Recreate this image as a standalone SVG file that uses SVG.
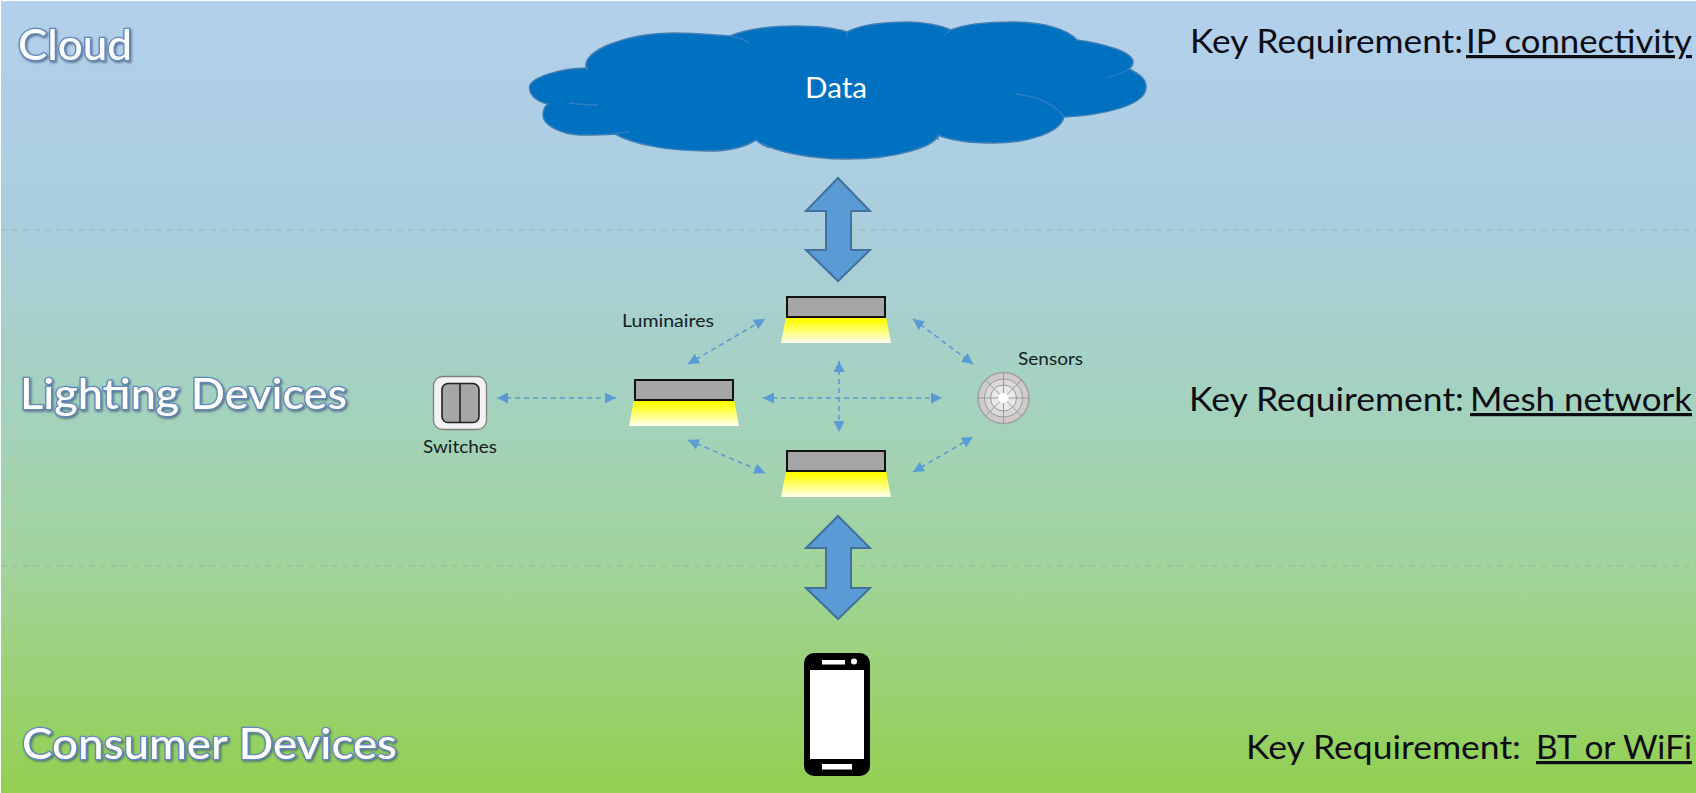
<svg xmlns="http://www.w3.org/2000/svg" width="1696" height="793" viewBox="0 0 1696 793">
<style>
text{font-family:Lato,"Liberation Sans",sans-serif}
.title{font-size:42px;font-weight:500;fill:#fff;stroke:#6488bd;stroke-width:2.6px;paint-order:stroke;filter:url(#shadow)}
.req{font-size:32px;fill:#0c0c14}
.u{text-decoration:underline}
.small{font-size:16.5px;fill:#14201f}
.sep{stroke:#8fa9a8;stroke-width:1;stroke-dasharray:6 5;fill:none;opacity:.6}
.big{fill:#5b9bd5;stroke:#41719c;stroke-width:2}
.link{stroke:#5b9bd5;stroke-width:1.6;stroke-dasharray:5 4;fill:none;marker-start:url(#ah);marker-end:url(#ah)}
.box{fill:#a6a6a6;stroke:#111;stroke-width:2}
.beam{fill:url(#lg)}
.fold{fill:none;stroke:#2f7ec0;stroke-width:1.3}
.ring{fill:none;stroke:#9a9a9a;stroke-width:1}
</style>
<defs>
<linearGradient id="bg" x1="0" y1="0" x2="0" y2="1">
<stop offset="0" stop-color="#b3d0ec"/>
<stop offset=".27" stop-color="#aacede"/>
<stop offset=".5" stop-color="#a4d2c0"/>
<stop offset=".72" stop-color="#a0d49a"/>
<stop offset="1" stop-color="#92d050"/>
</linearGradient>
<linearGradient id="lg" x1="0" y1="0" x2="0" y2="1">
<stop offset=".12" stop-color="#ffff00"/>
<stop offset="1" stop-color="#fffff0"/>
</linearGradient>
<filter id="shadow" x="-5%" y="-20%" width="110%" height="140%">
<feDropShadow dx="1.2" dy="1.5" stdDeviation="1.2" flood-color="#3b4f70" flood-opacity=".75"/>
</filter>
<marker id="ah" viewBox="0 0 10 10" refX="10" refY="5" markerUnits="userSpaceOnUse" markerWidth="11" markerHeight="11" orient="auto-start-reverse">
<path d="M0 0L10 5L0 10Z" fill="#5b9bd5"/>
</marker>
<g id="lum">
<path class="beam" d="M-1 20H99L104 46H-6Z"/>
<rect class="box" x="0" y="0" width="98" height="20"/>
</g>
</defs>
<rect id="background" x="1" y="1" width="1695" height="792" fill="url(#bg)"/>
<path class="sep" d="M1 230H1696M1 566H1696"/>

<g id="connectors">
<path class="big" d="M838 178L870 211H851V250H870L838 281L806 250H826V211H806Z"/>
<path class="big" d="M838 516L870 548H851V588H870L838 619L806 588H826V548H806Z"/>
<line class="link" x1="497" y1="398" x2="616" y2="398"/>
<line class="link" x1="688" y1="364" x2="765" y2="319"/>
<line class="link" x1="688" y1="440" x2="765" y2="473"/>
<line class="link" x1="913" y1="319" x2="973" y2="364"/>
<line class="link" x1="913" y1="472" x2="973" y2="437"/>
<line class="link" x1="763" y1="398" x2="942" y2="398"/>
<line class="link" x1="839" y1="361" x2="839" y2="432"/>
</g>

<g id="cloud">
<path fill="#0070c0" stroke="#3f7fb5" stroke-width="1.5" d="M587 70C578 50 630 33 673 33C695 33 715 35 730 36C750 28 775 26 795 26C820 26 838 29 847 32C860 25 885 22 908 22C925 22 942 26 951 30C965 24 990 22 1012 22C1045 22 1068 30 1077 40C1105 44 1133 52 1133 62C1133 66 1130 68 1129 69C1140 74 1147 80 1146 88C1145 105 1105 115 1064 117C1060 132 1030 143 994 143C970 143 950 140 938 135C936 145 900 159 847 159C805 159 770 150 756 140C745 147 730 151 708 151C670 151 635 145 615 134C605 135 590 135 580 135C560 134 543 125 543 115C543 110 545 106 548 104C535 101 529 94 529.5 87C530 78 560 68 587 68Z"/>
<path class="fold" d="M730 36Q742 38 749 43M847 32V38M944 35Q949 32 951 30M1107 78Q1120 74 1129 69M1016 94Q1050 98 1064 117M569 103Q585 105 598 105M615 134Q622 132 630 132M756 140Q762 145 769 148M938 135V140"/>
<text x="836" y="98" font-size="29" fill="#fff" text-anchor="middle" textLength="62" lengthAdjust="spacingAndGlyphs">Data</text>
</g>

<g id="luminaire-top"><use href="#lum" x="787" y="297"/></g>
<g id="luminaire-left"><use href="#lum" x="635" y="380"/></g>
<g id="luminaire-bottom"><use href="#lum" x="787" y="451"/></g>
<text class="small" x="622" y="327" textLength="92" lengthAdjust="spacingAndGlyphs">Luminaires</text>

<g id="switch">
<rect x="433.5" y="376.5" width="53" height="53" rx="9" fill="#f2f2f2" stroke="#7f7f7f" stroke-width="1.3"/>
<rect x="442" y="383.5" width="37" height="39" rx="6" fill="#a6a6a6" stroke="#222" stroke-width="1.6"/>
<line x1="460" y1="383.5" x2="460" y2="422.5" stroke="#222" stroke-width="1.6"/>
<text class="small" x="423" y="453" textLength="74" lengthAdjust="spacingAndGlyphs">Switches</text>
</g>

<g id="sensor">
<circle cx="1003.5" cy="398" r="25.5" fill="#cfcbcd" stroke="#a3a3a3" stroke-width="1.6"/>
<circle cx="1003.5" cy="398" r="19" fill="#dcd9da"/>
<circle cx="1003.5" cy="398" r="13" fill="#ebe9ea"/>
<circle cx="1003.5" cy="398" r="19" class="ring"/>
<circle cx="1003.5" cy="398" r="13" class="ring"/>
<path class="ring" d="M1003.5 372.5V393M1003.5 403V423.5M978 398H998.5M1008.5 398H1029M985.5 380L1000 394.500M1007 401.500L1021.500 416M1021.500 380L1007 394.500M1000 401.500L985.5 416"/>
<circle cx="1003.5" cy="398" r="5" fill="#fff"/>
<text class="small" x="1018" y="365" textLength="65" lengthAdjust="spacingAndGlyphs">Sensors</text>
</g>

<g id="phone">
<rect x="804" y="653" width="66" height="123" rx="10" fill="#000"/>
<rect x="810" y="670" width="54" height="89" fill="#fff"/>
<rect x="822" y="660" width="23" height="4.500" fill="#fff"/>
<circle cx="854" cy="661.500" r="3" fill="#fff"/>
<rect x="822" y="764" width="30" height="5.500" fill="#fff"/>
</g>

<g id="labels">
<text class="title" x="18" y="60" textLength="114" lengthAdjust="spacingAndGlyphs">Cloud</text>
<text class="title" x="20" y="409" textLength="327" lengthAdjust="spacingAndGlyphs">Lighting Devices</text>
<text class="title" x="22" y="759" textLength="375" lengthAdjust="spacingAndGlyphs">Consumer Devices</text>
<text class="req" x="1190" y="53" textLength="273" lengthAdjust="spacingAndGlyphs">Key Requirement:</text>
<text class="req u" x="1466" y="53" textLength="226" lengthAdjust="spacingAndGlyphs">IP connectivity</text>
<text class="req" x="1189" y="411" textLength="275" lengthAdjust="spacingAndGlyphs">Key Requirement:</text>
<text class="req u" x="1470" y="411" textLength="222" lengthAdjust="spacingAndGlyphs">Mesh network</text>
<text class="req" x="1246" y="759" textLength="275" lengthAdjust="spacingAndGlyphs">Key Requirement:</text>
<text class="req u" x="1536" y="759" textLength="156" lengthAdjust="spacingAndGlyphs">BT or WiFi</text>
</g>
</svg>
